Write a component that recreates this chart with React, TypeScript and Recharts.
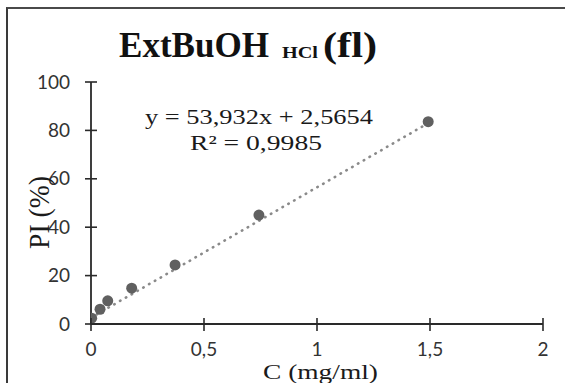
import { ComposedChart, Scatter, XAxis, YAxis } from "recharts";

// concentration (mg/ml) vs inhibition (%)
const concentrations = [0.003, 0.04, 0.074, 0.18, 0.372, 0.743, 1.492];
const inhibition = [2.4, 6.1, 9.6, 14.8, 24.4, 45.0, 83.6];
// linear trendline endpoints as drawn
const trendX = [0, 1.492];
const trendY = [2.6, 83.0];
const xTicks = [0, 0.5, 1, 1.5, 2];
const yTicks = [0, 20, 40, 60, 80, 100];

const points = concentrations.map((c, i) => ({ x: c, y: inhibition[i] }));
const trend = trendX.map((x, i) => ({ x, y: trendY[i] }));

const AXIS = "#2a2a2a";
const TICK_FONT = "Lato, 'Open Sans', sans-serif";
const SERIF = "'Liberation Serif', 'DejaVu Serif', serif";

const fmt = (v: number) => String(v).replace(".", ",");

function XTick({ x, y, payload }: any) {
  return (
    <g>
      <line x1={x} x2={x} y1={y - 6} y2={y + 7} stroke={AXIS} strokeWidth={1.6} />
      <text x={x} y={y + 32} textAnchor="middle" fontFamily={TICK_FONT} fontSize={19} fill="#333">
        {fmt(payload.value)}
      </text>
    </g>
  );
}

function YTick({ x, y, payload }: any) {
  return (
    <g>
      <line x1={x - 6} x2={x + 6} y1={y} y2={y} stroke={AXIS} strokeWidth={1.6} />
      <text x={x - 21} y={y + 6.5} textAnchor="end" fontFamily={TICK_FONT} fontSize={19} fill="#333">
        {fmt(payload.value)}
      </text>
    </g>
  );
}

export default function App() {
  return (
    <div style={{ position: "absolute", left: 0, top: 0, width: 565, height: 383, background: "#fff", overflow: "hidden" }}>
      <div
        style={{
          position: "absolute",
          left: 6,
          top: 7,
          width: 620,
          height: 420,
          borderTop: "2.5px solid #4a4a4a",
          borderLeft: "2.5px solid #3a3a3a",
        }}
      />
      <div style={{ position: "absolute", left: 0, top: 0 }}>
        <ComposedChart width={565} height={383} margin={{ top: 82, right: 22, bottom: 29, left: 31 }}>
          <XAxis
            type="number"
            dataKey="x"
            domain={[0, 2]}
            ticks={xTicks}
            allowDataOverflow
            height={30}
            tickSize={0}
            tickMargin={0}
            tickLine={false}
            axisLine={{ stroke: AXIS, strokeWidth: 1.8 }}
            tick={XTick}
          />
          <YAxis
            type="number"
            dataKey="y"
            domain={[0, 100]}
            ticks={yTicks}
            allowDataOverflow
            width={60}
            tickSize={0}
            tickMargin={0}
            tickLine={false}
            axisLine={{ stroke: AXIS, strokeWidth: 1.8 }}
            tick={YTick}
          />
          <Scatter
            data={trend}
            isAnimationActive={false}
            line={{ stroke: "#8a8a8a", strokeWidth: 2.6, strokeDasharray: "0.5 6.2", strokeLinecap: "round" }}
            shape={() => <g />}
          />
          <Scatter
            data={points}
            isAnimationActive={false}
            shape={(p: any) => <circle cx={p.cx} cy={p.cy} r={5.5} fill="#606060" />}
          />
        </ComposedChart>
      </div>
      <svg width={565} height={383} style={{ position: "absolute", left: 0, top: 0, pointerEvents: "none" }}>
        <g fontFamily={SERIF} fontWeight="bold" fill="#111">
          <text x={119} y={57} fontSize={36} textLength={150} lengthAdjust="spacingAndGlyphs">ExtBuOH</text>
          <text x={282} y={58} fontSize={16} textLength={36} lengthAdjust="spacingAndGlyphs">HCl</text>
          <text x={323} y={57} fontSize={36} textLength={54} lengthAdjust="spacingAndGlyphs">(fl)</text>
        </g>
        <g fontFamily={SERIF} fill="#1a1a1a">
          <text x={145} y={124} fontSize={22} textLength={228} lengthAdjust="spacingAndGlyphs">y = 53,932x + 2,5654</text>
          <text x={190} y={150} fontSize={21} textLength={132} lengthAdjust="spacingAndGlyphs">R² = 0,9985</text>
          <text x={263} y={379} fontSize={22} textLength={115} lengthAdjust="spacingAndGlyphs">C (mg/ml)</text>
          <g transform="translate(49,212.5) scale(1.2,1) rotate(-90)">
            <text x={0} y={0} fontSize={25} textAnchor="middle" textLength={73} lengthAdjust="spacingAndGlyphs">PI (%)</text>
          </g>
        </g>
      </svg>
    </div>
  );
}
